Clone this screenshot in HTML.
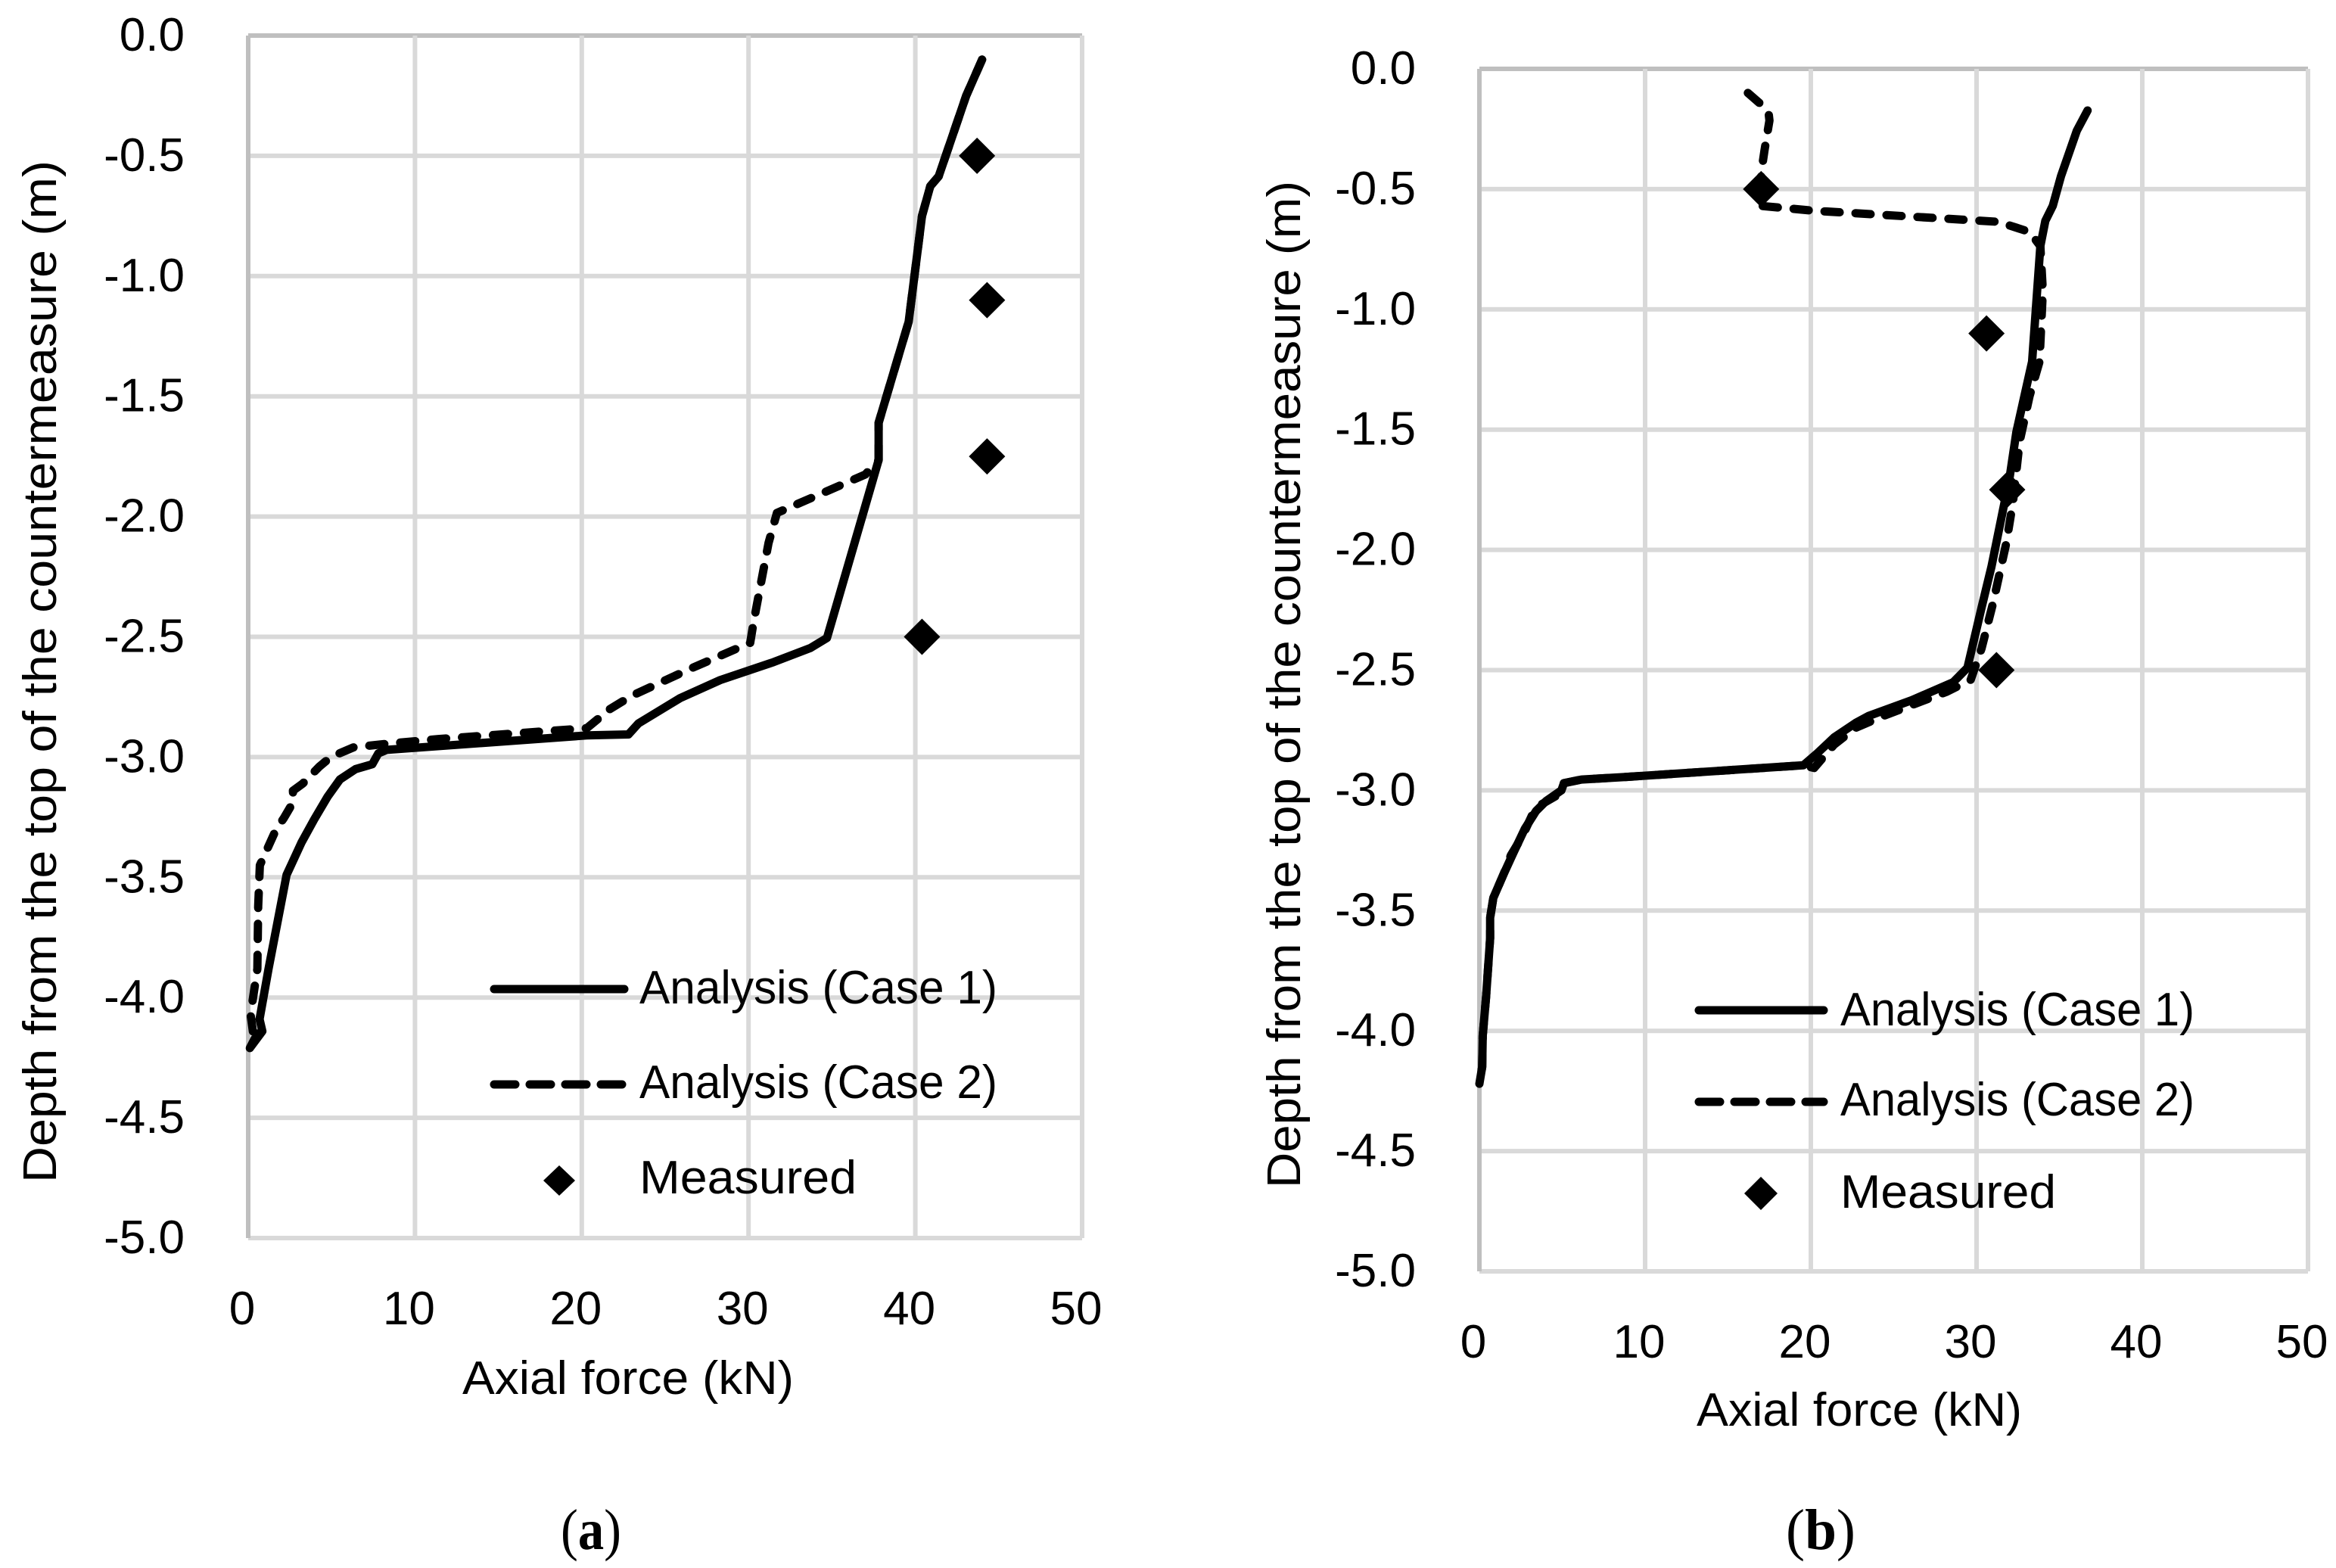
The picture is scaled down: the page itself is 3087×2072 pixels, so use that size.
<!DOCTYPE html>
<html>
<head>
<meta charset="utf-8">
<title>Axial force versus depth</title>
<style>
html,body{margin:0;padding:0;background:#fff;}
svg{display:block;}
text{font-family:"Liberation Sans",sans-serif;fill:#000;}
.tick{font-size:62px;}
.lab{font-size:62px;}
.cap{font-family:"Liberation Serif",serif;font-size:76px;}
</style>
</head>
<body>
<svg id="figure" xmlns="http://www.w3.org/2000/svg" width="3087" height="2072" viewBox="0 0 3087 2072">
<rect width="3087" height="2072" fill="#fff"/>
<g id="chartA"></g>
<g id="chartB"></g>

<text class="lab" transform="translate(74,1563) rotate(-90)" textLength="1351" lengthAdjust="spacingAndGlyphs">Depth from the top of the countermeasure (m)</text>
<text class="lab" x="611" y="1842" textLength="438" lengthAdjust="spacingAndGlyphs">Axial force (kN)</text>
<line x1="653" y1="1307" x2="825" y2="1307" stroke="#000" stroke-width="11" stroke-linecap="round"/>
<line x1="653" y1="1433" x2="825" y2="1433" stroke="#000" stroke-width="11" stroke-linecap="round" stroke-dasharray="28 19"/>
<polygon points="739,1540 760,1560 739,1580 718,1560" fill="#000"/>
<text class="lab" x="845" y="1326" textLength="473" lengthAdjust="spacingAndGlyphs">Analysis (Case 1)</text>
<text class="lab" x="845" y="1451" textLength="473" lengthAdjust="spacingAndGlyphs">Analysis (Case 2)</text>
<text class="lab" x="845" y="1577" textLength="287" lengthAdjust="spacingAndGlyphs">Measured</text>
<text class="cap" x="741" y="2047" textLength="80" lengthAdjust="spacingAndGlyphs">(<tspan font-weight="bold">a</tspan>)</text>

<text class="lab" transform="translate(1718,1570) rotate(-90)" textLength="1331" lengthAdjust="spacingAndGlyphs">Depth from the top of the countermeasure (m)</text>
<text class="lab" x="2242" y="1884" textLength="430" lengthAdjust="spacingAndGlyphs">Axial force (kN)</text>
<line x1="2245" y1="1335" x2="2410" y2="1335" stroke="#000" stroke-width="11" stroke-linecap="round"/>
<line x1="2245" y1="1456" x2="2410" y2="1456" stroke="#000" stroke-width="11" stroke-linecap="round" stroke-dasharray="28 19"/>
<polygon points="2327,1555 2349,1577 2327,1599 2305,1577" fill="#000"/>
<text class="lab" x="2432" y="1355" textLength="468" lengthAdjust="spacingAndGlyphs">Analysis (Case 1)</text>
<text class="lab" x="2432" y="1474" textLength="468" lengthAdjust="spacingAndGlyphs">Analysis (Case 2)</text>
<text class="lab" x="2432" y="1596" textLength="285" lengthAdjust="spacingAndGlyphs">Measured</text>
<text class="cap" x="2360" y="2047" textLength="92" lengthAdjust="spacingAndGlyphs">(<tspan font-weight="bold">b</tspan>)</text>
</svg>
<script>
const forceTicks = [0, 10, 20, 30, 40, 50];
const depthTicks = [0, -0.5, -1, -1.5, -2, -2.5, -3, -3.5, -4, -4.5, -5];

const aCase1Force = [44.0,43.05,41.4,40.9,40.4,39.6,37.8,37.8,34.7,33.7,31.5,28.3,25.9,23.4,22.8,20.3,8.3,7.8,7.44,6.44,5.5,4.76,3.95,3.2,2.3,1.22,0.68,0.85,0.1];
const aCase1Depth = [-0.10,-0.25,-0.585,-0.626,-0.75,-1.19,-1.61,-1.765,-2.505,-2.547,-2.605,-2.68,-2.755,-2.86,-2.906,-2.91,-2.97,-2.985,-3.03,-3.05,-3.093,-3.165,-3.26,-3.355,-3.49,-3.88,-4.09,-4.14,-4.21];
const aCase2Force = [44.0,43.05,41.4,40.9,40.4,39.6,37.8,37.8,37.0,31.7,31.2,30.3,30.1,26.6,23,21.7,20.3,11.4,8.3,6.3,4.95,4.26,3.7,3.27,2.68,2.72,2.13,1.68,0.7,0.6,0.55,0.14,0.3,0.7,0.1];
const aCase2Depth = [-0.10,-0.25,-0.585,-0.626,-0.75,-1.19,-1.61,-1.765,-1.825,-1.985,-2.11,-2.44,-2.525,-2.63,-2.745,-2.8,-2.88,-2.925,-2.945,-2.96,-3.0,-3.04,-3.08,-3.11,-3.14,-3.185,-3.255,-3.30,-3.45,-3.62,-3.88,-4.07,-4.15,-4.13,-4.21];
const aMeasuredForce = [43.7,44.3,44.3,40.4];
const aMeasuredDepth = [-0.5,-1.1,-1.75,-2.5];

const bCase1Force = [36.7,36.05,35.1,34.6,34.15,33.85,33.35,32.4,32.0,30.9,30.3,29.45,28.6,26.1,23.5,22.7,21.4,20.4,19.55,8.9,6.16,5.1,4.95,4.03,3.42,2.74,2.05,1.45,0.84,0.65,0.65,0.4,0.2,0.17,0];
const bCase1Depth = [-0.173,-0.257,-0.445,-0.57,-0.632,-0.737,-1.217,-1.51,-1.697,-2.07,-2.24,-2.49,-2.55,-2.625,-2.69,-2.72,-2.78,-2.845,-2.896,-2.944,-2.955,-2.97,-3.0,-3.044,-3.086,-3.16,-3.26,-3.35,-3.447,-3.53,-3.615,-3.86,-4.02,-4.15,-4.22];
const bCase2Force = [16.2,17.0,17.45,17.5,17.2,17.0,17.0,20.2,31.3,33.2,33.85,34,33.8,33.2,32.6,32.2,31.8,31.0,30.3,29.65,28.2,26.1,24.4,22.7,21.4,20.2,19.55,8.9,6.16,5.1,4.7,3.7,3.2,2.6,1.9,1.45,0.84,0.65,0.65,0.4,0.2,0.17,0];
const bCase2Depth = [-0.10,-0.148,-0.184,-0.215,-0.34,-0.434,-0.57,-0.59,-0.636,-0.678,-0.737,-0.924,-1.217,-1.36,-1.55,-1.80,-1.97,-2.22,-2.41,-2.54,-2.59,-2.645,-2.69,-2.74,-2.81,-2.907,-2.896,-2.944,-2.955,-2.97,-3.02,-3.06,-3.10,-3.19,-3.27,-3.35,-3.447,-3.53,-3.615,-3.86,-4.02,-4.15,-4.22];
const bMeasuredForce = [17.0,30.6,31.85,31.2];
const bMeasuredDepth = [-0.5,-1.1,-1.75,-2.5];

const NS = 'http://www.w3.org/2000/svg';

function make(tag, parent, attrs) {
  const el = document.createElementNS(NS, tag);
  for (const k in attrs) el.setAttribute(k, attrs[k]);
  parent.appendChild(el);
  return el;
}

function drawChart(root, frame, suffix, case1F, case1D, case2F, case2D, measF, measD) {
  const xAt = v => frame.left + (v / 50) * (frame.right - frame.left);
  const yAt = v => frame.top + (-v / 5) * (frame.bottom - frame.top);

  depthTicks.forEach((t, i) => {
    const line = make('line', root, {x1: frame.left, x2: frame.right, y1: yAt(t), y2: yAt(t), stroke: i === 0 ? '#bfbfbf' : '#d9d9d9', 'stroke-width': 6});
    
    
    const label = make('text', root, {class: 'tick', x: frame.yLabelX, y: yAt(t) + 20, 'text-anchor': 'end'});
    
    
    label.textContent = t.toFixed(1);
  });

  forceTicks.forEach((t, i) => {
    const line = make('line', root, {x1: xAt(t), x2: xAt(t), y1: frame.top, y2: frame.bottom, stroke: i === 0 ? '#bfbfbf' : '#d9d9d9', 'stroke-width': 6});
    
    
    const label = make('text', root, {class: 'tick', x: xAt(t) - 8, y: frame.bottom + 114, 'text-anchor': 'middle'});
    
    
    label.textContent = String(t);
  });

  const toPoints = (fs, ds) => fs.map((f, i) => xAt(f).toFixed(1) + ',' + yAt(ds[i]).toFixed(1)).join(' ');

  const dashed = make('polyline', root, {points: toPoints(case2F, case2D), fill: 'none', stroke: '#000', 'stroke-width': 11, 'stroke-linecap': 'round', 'stroke-linejoin': 'round', 'stroke-dasharray': '20 21'});
  
  

  const solid = make('polyline', root, {points: toPoints(case1F, case1D), fill: 'none', stroke: '#000', 'stroke-width': 11, 'stroke-linecap': 'round', 'stroke-linejoin': 'round'});
  
  

  measF.forEach((f, i) => {
    const cx = xAt(f), cy = yAt(measD[i]), r = 24;
    const d = make('polygon', root, {points: [cx, cy - r, cx + r, cy, cx, cy + r, cx - r, cy].join(' '), fill: '#000'});
    
    
  });
}

drawChart(document.getElementById('chartA'), {left: 328, right: 1430, top: 47, bottom: 1636, yLabelX: 244}, 'a',
  aCase1Force, aCase1Depth, aCase2Force, aCase2Depth, aMeasuredForce, aMeasuredDepth);
drawChart(document.getElementById('chartB'), {left: 1955, right: 3050, top: 91, bottom: 1680, yLabelX: 1871}, 'b',
  bCase1Force, bCase1Depth, bCase2Force, bCase2Depth, bMeasuredForce, bMeasuredDepth);
</script>
</body>
</html>
